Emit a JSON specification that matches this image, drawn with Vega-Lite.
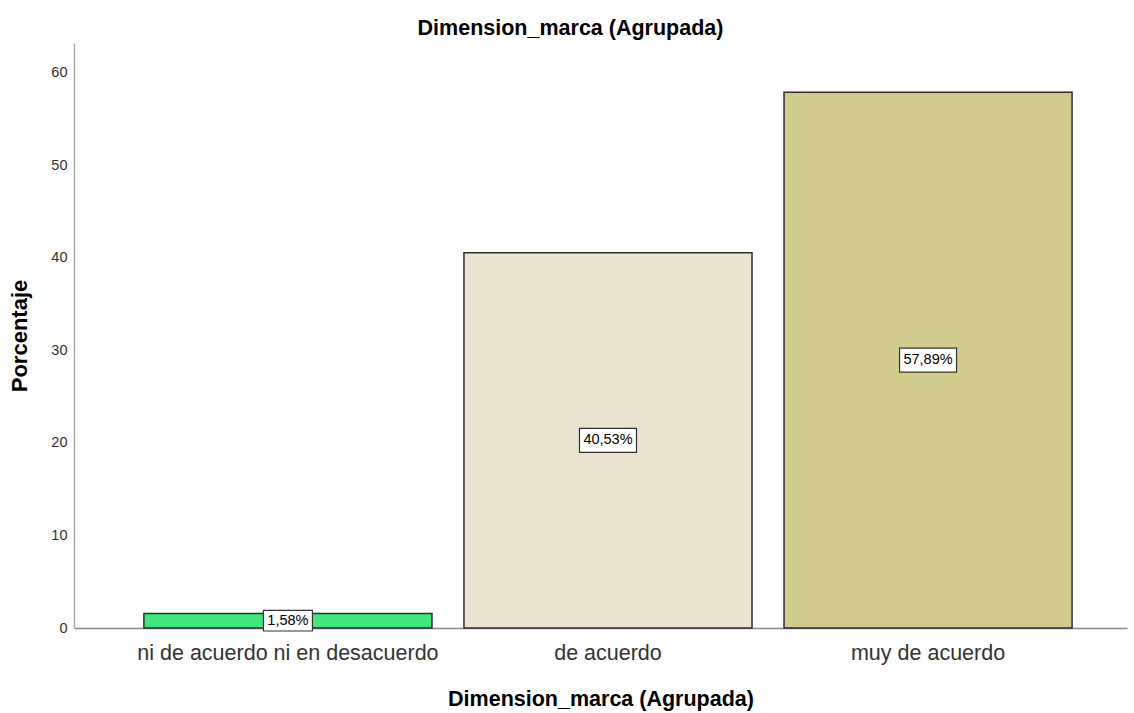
{
  "$schema": "https://vega.github.io/schema/vega-lite/v6.json",
  "autosize": "none",
  "width": 1053,
  "height": 585,
  "padding": {"left": 74, "top": 43, "right": 7, "bottom": 85},
  "background": "white",
  "config": {"view": {"stroke": null}},
  "title": {
    "text": "Dimension_marca (Agrupada)",
    "fontSize": 21.5,
    "fontWeight": "bold",
    "font": "Liberation Sans",
    "color": "#000000",
    "anchor": "middle",
    "dx": -30,
    "offset": 4
  },
  "data": {
    "values": [
      {"cat": "ni de acuerdo ni en desacuerdo", "pct": 1.58, "label": "1,58%"},
      {"cat": "de acuerdo", "pct": 40.53, "label": "40,53%"},
      {"cat": "muy de acuerdo", "pct": 57.89, "label": "57,89%"}
    ]
  },
  "encoding": {
    "x": {
      "field": "cat",
      "type": "nominal",
      "sort": null,
      "scale": {"paddingInner": 0.1, "paddingOuter": 0.195, "align": 0.56},
      "axis": {
        "title": "Dimension_marca (Agrupada)",
        "titleFont": "Liberation Sans",
        "titleFontSize": 21.5,
        "titleFontWeight": "bold",
        "titleColor": "#000000",
        "titlePadding": 25,
        "labelAngle": 0,
        "labelFont": "Liberation Sans",
        "labelFontSize": 21.5,
        "labelColor": "#333333",
        "labelPadding": 14,
        "labelLimit": 0,
        "ticks": false,
        "domainColor": "#888888",
        "domainWidth": 1.5,
        "grid": false
      }
    }
  },
  "layer": [
    {
      "mark": {"type": "bar", "stroke": "#2e2e2e", "strokeWidth": 1.5},
      "encoding": {
        "y": {
          "field": "pct",
          "type": "quantitative",
          "scale": {"domain": [0, 63.2], "nice": false},
          "axis": {
            "title": "Porcentaje",
            "titleFont": "Liberation Sans",
            "titleFontSize": 22,
            "titleFontWeight": "bold",
            "titleColor": "#000000",
            "titlePadding": 19,
            "values": [0, 10, 20, 30, 40, 50, 60],
            "labelFont": "Liberation Sans",
            "labelFontSize": 14.5,
            "labelColor": "#333333",
            "labelPadding": 7,
            "ticks": false,
            "grid": false,
            "domainColor": "#aaaaaa",
            "domainWidth": 1.5
          }
        },
        "color": {
          "field": "cat",
          "type": "nominal",
          "sort": null,
          "scale": {"range": ["#40E87C", "#EAE4D0", "#D1CB8E"]},
          "legend": null
        }
      }
    },
    {
      "transform": [{"calculate": "datum.pct / 2", "as": "mid"}],
      "mark": {"type": "point", "shape": "M-1,-0.42H1V0.42H-1Z", "filled": true, "fill": "white", "stroke": "#333333", "strokeWidth": 1.2, "opacity": 1},
      "encoding": {
        "y": {"field": "mid", "type": "quantitative"},
        "size": {"condition": {"test": "datum.pct < 10", "value": 2401}, "value": 3249}
      }
    },
    {
      "transform": [{"calculate": "datum.pct / 2", "as": "mid"}],
      "mark": {"type": "text", "font": "Liberation Sans", "fontSize": 14.5, "color": "#000000", "baseline": "middle", "align": "center"},
      "encoding": {
        "y": {"field": "mid", "type": "quantitative"},
        "text": {"field": "label"}
      }
    }
  ]
}
